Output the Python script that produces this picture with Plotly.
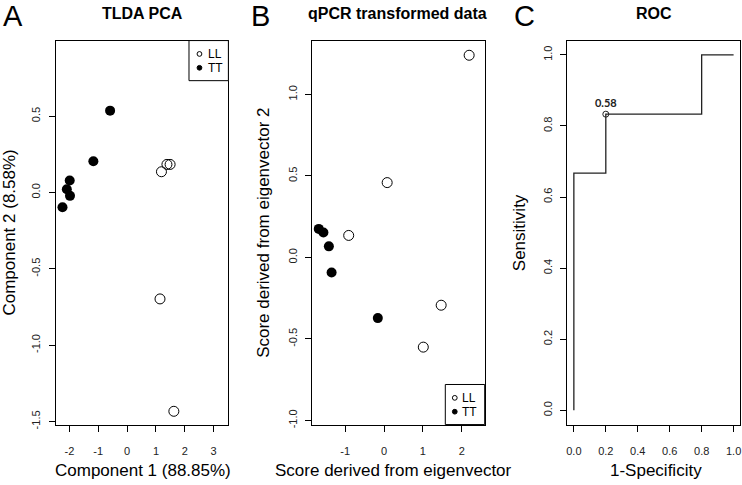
import plotly.graph_objects as go

W, H = 742, 485

groups = ["LL", "TT"]

# Panel A: TLDA PCA scores
pca_ll_x = [1.19, 1.38, 1.49, 1.14, 1.62]
pca_ll_y = [0.136, 0.184, 0.184, -0.697, -1.433]
pca_tt_x = [-0.59, -1.17, -1.99, -2.09, -1.98, -2.24]
pca_tt_y = [0.536, 0.205, 0.078, 0.021, -0.022, -0.097]

# Panel B: qPCR transformed data
qpcr_ll_x = [2.19, 0.08, -0.91, 1.47, 1.01]
qpcr_ll_y = [1.24, 0.459, 0.135, -0.293, -0.55]
qpcr_tt_x = [-1.68, -1.56, -1.42, -1.35, -0.16]
qpcr_tt_y = [0.175, 0.153, 0.068, -0.092, -0.372]

# Panel C: ROC curve
roc_fpr = [0.0, 0.0, 0.2, 0.2, 0.8, 0.8, 1.0]
roc_tpr = [0.0, 0.667, 0.667, 0.833, 0.833, 1.0, 1.0]
best_fpr = [0.2]
best_tpr = [0.833]
best_thr = "0.58"

# tick labels
a_xticks = [-2, -1, 0, 1, 2, 3]
a_xlabels = ["-2", "-1", "0", "1", "2", "3"]
a_yticks = [0.5, 0.0, -0.5, -1.0, -1.5]
a_ylabels = ["0.5", "0.0", "-0.5", "-1.0", "-1.5"]
b_xticks = [-1, 0, 1, 2]
b_xlabels = ["-1", "0", "1", "2"]
b_yticks = [1.0, 0.5, 0.0, -0.5, -1.0]
b_ylabels = ["1.0", "0.5", "0.0", "-0.5", "-1.0"]
c_ticks = [0.0, 0.2, 0.4, 0.6, 0.8, 1.0]
c_labels = ["0.0", "0.2", "0.4", "0.6", "0.8", "1.0"]

FONT = "Liberation Sans, Arial, sans-serif"


def px(x):
    return x / W


def py(y):
    return 1 - y / H


def axis(dom, rng, vals, text, angle=0, standoff=4):
    return dict(domain=dom, range=rng, tickvals=vals, ticktext=text,
                ticks="outside", ticklen=6, tickwidth=1, tickcolor="black",
                showline=True, linecolor="black", linewidth=1, mirror=True,
                showgrid=False, zeroline=False, tickangle=angle,
                ticklabelstandoff=standoff, ticklabeloverflow="allow",
                tickfont=dict(family=FONT, size=11, color="#222"))


fig = go.Figure()

open_marker = dict(symbol="circle-open", size=10, color="black", line=dict(width=1))
fill_marker = dict(symbol="circle", size=10, color="black")

fig.add_trace(go.Scatter(x=pca_ll_x, y=pca_ll_y, mode="markers", marker=open_marker,
                         name=groups[0], xaxis="x", yaxis="y"))
fig.add_trace(go.Scatter(x=pca_tt_x, y=pca_tt_y, mode="markers", marker=fill_marker,
                         name=groups[1], xaxis="x", yaxis="y"))
fig.add_trace(go.Scatter(x=qpcr_ll_x, y=qpcr_ll_y, mode="markers", marker=open_marker,
                         name=groups[0], xaxis="x2", yaxis="y2"))
fig.add_trace(go.Scatter(x=qpcr_tt_x, y=qpcr_tt_y, mode="markers", marker=fill_marker,
                         name=groups[1], xaxis="x2", yaxis="y2"))
fig.add_trace(go.Scatter(x=roc_fpr, y=roc_tpr, mode="lines",
                         line=dict(color="#222", width=1.3), xaxis="x3", yaxis="y3"))
fig.add_trace(go.Scatter(x=best_fpr, y=best_tpr, mode="markers+text",
                         marker=dict(symbol="circle-open", size=6, color="#222", line=dict(width=1)),
                         text=["<b>%s</b>" % best_thr], textposition="top center",
                         textfont=dict(family="Lato, Open Sans, sans-serif", size=11, color="#222"),
                         xaxis="x3", yaxis="y3"))

ydom = [py(429), py(41)]
fig.update_layout(
    width=W, height=H,
    margin=dict(l=0, r=0, t=0, b=0),
    paper_bgcolor="white", plot_bgcolor="white",
    showlegend=False,
    font=dict(family=FONT, color="black"),
    xaxis=axis([px(55), px(228)], [-2.47, 3.51], a_xticks, a_xlabels, standoff=10),
    yaxis=axis(ydom, [-1.52, 0.995], a_yticks, a_ylabels, -90),
    xaxis2=axis([px(312), px(485)], [-1.85, 2.59], b_xticks, b_xlabels, standoff=10),
    yaxis2=axis(ydom, [-1.025, 1.33], b_yticks, b_ylabels, -90),
    xaxis3=axis([px(568), px(741)], [-0.04, 1.04], c_ticks, c_labels, standoff=10),
    yaxis3=axis(ydom, [-0.04, 1.04], c_ticks, c_labels, -90),
)
fig.layout.yaxis.anchor = "x"
fig.layout.yaxis2.anchor = "x2"
fig.layout.xaxis2.anchor = "y2"
fig.layout.yaxis3.anchor = "x3"
fig.layout.xaxis3.anchor = "y3"

anns = []


def text(x, y, s, size, angle=0, bold=False, xanchor="center"):
    anns.append(dict(x=px(x), y=py(y), xref="paper", yref="paper", text="<b>%s</b>" % s if bold else s,
                     showarrow=False, textangle=angle, xanchor=xanchor, yanchor="middle",
                     font=dict(family=FONT, size=size, color="black")))


# panel letters and titles
text(0, 16, "A", 29, xanchor="left")
text(249, 16, "B", 29, xanchor="left")
text(512, 16, "C", 29, xanchor="left")
text(142, 14, "TLDA PCA", 16, bold=True)
text(398, 14, "qPCR transformed data", 16, bold=True)
text(655, 14, "ROC", 16, bold=True)

# axis titles
text(142, 475, "Component 1 (88.85%)", 17)
text(9, 235, "Component 2 (8.58%)", 17, angle=-90)
text(273, 475, "Score derived from eigenvector", 17, xanchor="left")
text(263, 235, "Score derived from eigenvector 2", 17, angle=-90)
text(657, 475, "1-Specificity", 17)
text(520, 235, "Sensitivity", 17, angle=-90)

shapes = []


def legend(x0, y0, x1, y1, sx, tx, rows):
    shapes.append(dict(type="rect", xref="paper", yref="paper", x0=px(x0), x1=px(x1),
                       y0=py(y0), y1=py(y1), line=dict(color="black", width=1), fillcolor="white"))
    for i, ry in enumerate(rows):
        r = 2.4
        shapes.append(dict(type="circle", xref="paper", yref="paper",
                           x0=px(sx - r), x1=px(sx + r), y0=py(ry - r), y1=py(ry + r),
                           line=dict(color="black", width=1),
                           fillcolor="white" if i == 0 else "black"))
        anns.append(dict(x=px(tx), y=py(ry), xref="paper", yref="paper", text=groups[i],
                         showarrow=False, xanchor="left", yanchor="middle",
                         font=dict(family=FONT, size=12, color="black")))


legend(188.5, 41, 228, 81.5, 199, 205.5, [54.5, 68.5])
legend(445.5, 388.5, 485, 429, 455, 460, [402, 416])

fig.update_layout(annotations=anns, shapes=shapes)
fig.write_html("out.html", config={"displayModeBar": False},
               post_script="document.body.style.margin='0';")
